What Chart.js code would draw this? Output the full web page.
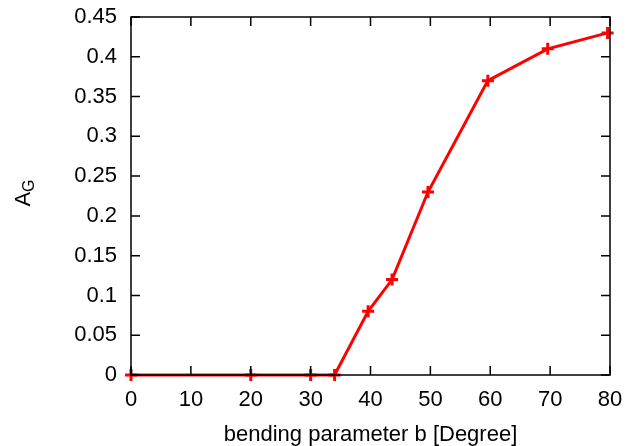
<!DOCTYPE html>
<html>
<head>
<meta charset="utf-8">
<script src="https://cdn.jsdelivr.net/npm/chart.js@4/dist/chart.umd.min.js"></script>
<style>
  html, body { margin: 0; padding: 0; background: #fff; }
  #wrap { width: 626px; height: 446px; }
</style>
</head>
<body>
<div id="wrap"><canvas id="myChart" width="626" height="446"></canvas></div>
<script>
// bending parameter b [Degree] vs A_G
const bValues = [0, 20, 30, 34, 39.6, 43.6, 49.6, 59.6, 69.6, 79.6];
const agValues = [0, 0, 0, 0, 0.08, 0.12, 0.23, 0.37, 0.41, 0.43];
const xTicks = [0, 10, 20, 30, 40, 50, 60, 70, 80];
const yTicks = [0, 0.05, 0.1, 0.15, 0.2, 0.25, 0.3, 0.35, 0.4, 0.45];

const FONT = 'Liberation Sans, Arial, sans-serif';
const FS = 22;

// gnuplot style frame with inward ticks on all four sides, plus the A_G label
const framePlugin = {
    id: 'frame',
    afterDraw(chart) {
        const ctx = chart.ctx;
        const a = chart.chartArea;
        const xs = chart.scales.x, ys = chart.scales.y;
        const len = 9;
        ctx.save();
        ctx.strokeStyle = '#000';
        ctx.lineWidth = 1.5;
        ctx.beginPath();
        xTicks.forEach(v => {
            const px = xs.getPixelForValue(v);
            ctx.moveTo(px, a.bottom); ctx.lineTo(px, a.bottom - len);
            ctx.moveTo(px, a.top); ctx.lineTo(px, a.top + len);
        });
        yTicks.forEach(v => {
            const py = ys.getPixelForValue(v);
            ctx.moveTo(a.left, py); ctx.lineTo(a.left + len, py);
            ctx.moveTo(a.right, py); ctx.lineTo(a.right - len, py);
        });
        ctx.stroke();
        ctx.strokeRect(a.left, a.top, a.right - a.left, a.bottom - a.top);

        // y title: A with subscript G, rotated
        ctx.translate(22, 193);
        ctx.rotate(-Math.PI / 2);
        ctx.fillStyle = '#000';
        ctx.textBaseline = 'alphabetic';
        ctx.font = FS + 'px ' + FONT;
        const wA = ctx.measureText('A').width;
        ctx.font = '16px ' + FONT;
        const wG = ctx.measureText('G').width;
        const x0 = -(wA + wG) / 2;
        ctx.font = FS + 'px ' + FONT;
        ctx.fillText('A', x0, 8);
        ctx.font = '16px ' + FONT;
        ctx.fillText('G', x0 + wA, 12);
        ctx.restore();
    }
};

const ctx = document.getElementById('myChart').getContext('2d');
new Chart(ctx, {
    type: 'line',
    data: {
        datasets: [{
            data: bValues.map((b, i) => ({ x: b, y: agValues[i] })),
            borderColor: '#ff0000',
            backgroundColor: '#ff0000',
            borderWidth: 3,
            pointStyle: 'cross',
            pointRadius: 6,
            pointBorderWidth: 3,
            pointHoverRadius: 6,
            tension: 0,
            clip: false
        }]
    },
    options: {
        responsive: false,
        animation: false,
        events: [],
        layout: { padding: { top: 17, right: 16, left: 0, bottom: 0 } },
        plugins: { legend: { display: false }, tooltip: { enabled: false } },
        scales: {
            x: {
                type: 'linear',
                min: 0, max: 80,
                afterBuildTicks: s => { s.ticks = xTicks.map(v => ({ value: v })); },
                afterFit: s => { s.height = 71; s.paddingLeft = 0; s.paddingRight = 0; },
                grid: { display: false, drawTicks: false },
                border: { display: false },
                ticks: { color: '#000', font: { family: FONT, size: FS }, padding: 12, maxRotation: 0, autoSkip: false },
                title: { display: true, text: 'bending parameter b [Degree]', color: '#000', font: { family: FONT, size: FS }, padding: { top: 0, bottom: -2 } }
            },
            y: {
                min: 0, max: 0.45,
                afterBuildTicks: s => { s.ticks = yTicks.map(v => ({ value: v })); },
                afterFit: s => { s.width = 131; s.paddingTop = 0; s.paddingBottom = 0; },
                grid: { display: false, drawTicks: false },
                border: { display: false },
                ticks: { color: '#000', font: { family: FONT, size: FS }, padding: 14, autoSkip: false,
                         callback: v => String(+v.toFixed(2)) }
            }
        }
    },
    plugins: [framePlugin]
});
</script>
</body>
</html>
